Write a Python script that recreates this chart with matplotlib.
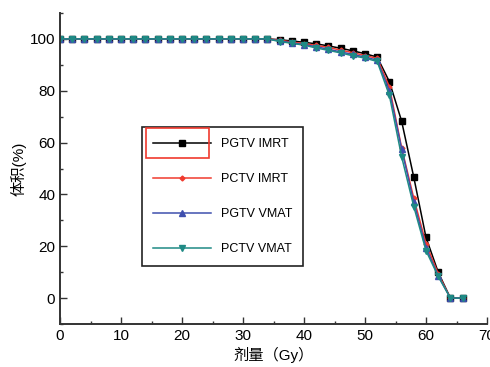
import matplotlib
matplotlib.use('Agg')
import matplotlib.pyplot as plt
from matplotlib.patches import Rectangle
from matplotlib.ticker import MultipleLocator

plt.rcParams['font.family'] = ['Liberation Sans', 'Noto Sans CJK SC', 'DejaVu Sans']

dose = list(range(0, 68, 2))
flat = [100.0] * 18  # 0..34 Gy

pgtv_imrt = flat + [99.7, 99.2, 98.7, 98.1, 97.3, 96.4, 95.4, 94.3, 93.0,
                    83.5, 68.3, 46.6, 23.4, 10.0, 0.0, 0.0]
pctv_imrt = flat + [99.5, 98.8, 98.2, 97.5, 96.7, 95.7, 94.7, 93.6, 92.5,
                    81.5, 58.0, 38.5, 21.0, 9.4, 0.0, 0.0]
pgtv_vmat = flat + [99.2, 98.5, 97.8, 97.0, 96.0, 95.0, 94.0, 93.0, 91.8,
                    80.0, 57.6, 37.0, 19.5, 8.6, 0.0, 0.0]
pctv_vmat = flat + [99.0, 98.3, 97.6, 96.5, 95.6, 94.6, 93.5, 92.6, 91.3,
                    78.2, 54.6, 35.3, 18.3, 8.4, 0.0, 0.0]

labels = ['PGTV IMRT', 'PCTV IMRT', 'PGTV VMAT', 'PCTV VMAT']
colors = ['#000000', '#f03a2e', '#3f4fae', '#1f8a85']
markers = ['s', 'D', '^', 'v']
msizes = [3.8, 2.5, 4.2, 4.2]

fig = plt.figure(figsize=(4.9, 3.67), dpi=100)
ax = fig.add_axes([60 / 490, 1 - 324 / 367, 427 / 490, 311 / 367])

series = [pgtv_imrt, pctv_imrt, pgtv_vmat, pctv_vmat]
for ys, lab, c, m, ms in zip(series, labels, colors, markers, msizes):
    ax.plot(dose, ys, color=c, marker=m, markersize=ms, linewidth=1.1, label=lab)

ax.set_xlim(0, 70)
ax.set_ylim(-10, 110)
ax.xaxis.set_major_locator(MultipleLocator(10))
ax.xaxis.set_minor_locator(MultipleLocator(5))
ax.yaxis.set_minor_locator(MultipleLocator(10))
ax.set_yticks([0, 20, 40, 60, 80, 100])
ax.tick_params(which='both', direction='in', color='#333333', labelsize=11)
ax.tick_params(which='major', length=5, width=1)
ax.tick_params(which='minor', length=2.5, width=1)
for s in ['top', 'right']:
    ax.spines[s].set_visible(False)
for s in ['left', 'bottom']:
    ax.spines[s].set_color('#333333')
    ax.spines[s].set_linewidth(1.4)

ax.set_xlabel('剂量（Gy）', fontsize=11, labelpad=3)
ax.set_ylabel('体积(%)', fontsize=11, labelpad=2)

leg = ax.legend(loc='upper left', bbox_to_anchor=(0.192, 0.632), borderaxespad=0,
                fontsize=9, handlelength=4.7, handletextpad=0.8, labelspacing=1.85,
                borderpad=0.85, fancybox=False, framealpha=1, edgecolor='#222222')
leg.get_frame().set_linewidth(1.2)

# red selection box around the first legend handle
fig.patches.append(Rectangle((146 / 490, 1 - 158 / 367), 63 / 490, 30 / 367,
                             transform=fig.transFigure, fill=False,
                             edgecolor='#f03a2e', linewidth=1.2, zorder=10))

fig.savefig('out.png', dpi=100)
